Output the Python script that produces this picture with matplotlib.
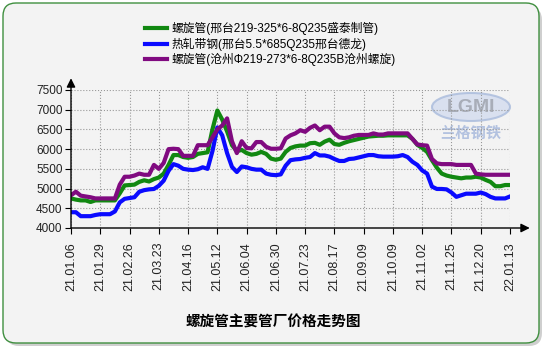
import matplotlib
matplotlib.use("Agg")
import matplotlib.pyplot as plt
from matplotlib.patches import FancyBboxPatch, Ellipse
import numpy as np

plt.rcParams['font.family'] = ['Liberation Sans', 'Noto Sans CJK SC', 'DejaVu Sans']

# tick labels (every 6th sample)
dates = ["21.01.06", "21.01.29", "21.02.26", "21.03.23", "21.04.16", "21.05.12",
         "21.06.04", "21.06.30", "21.07.23", "21.08.17", "21.09.09", "21.10.09",
         "21.11.02", "21.11.25", "21.12.20", "22.01.13"]

series_names = ["螺旋管(邢台219-325*6-8Q235盛泰制管)",
                "热轧带钢(邢台5.5*685Q235邢台德龙)",
                "螺旋管(沧州Φ219-273*6-8Q235B沧州螺旋)"]

# prices, 6 samples per label interval
green = [4750, 4720, 4700, 4700, 4660, 4700, 4700, 4700, 4700, 4700,
         4880, 5080, 5090, 5100, 5170, 5210, 5180, 5240, 5280, 5380,
         5600, 5850, 5850, 5800, 5780, 5800, 5880, 5900, 5920, 6500,
         6980, 6750, 6450, 6100, 5950, 5980, 5900, 5860, 5880, 5930,
         5880, 5760, 5730, 5760, 5930, 6030, 6070, 6090, 6090, 6150,
         6160, 6110, 6190, 6240, 6130, 6110, 6160, 6200, 6230, 6260,
         6290, 6320, 6330, 6340, 6340, 6350, 6350, 6350, 6350, 6350,
         6260, 6110, 6030, 5930, 5720, 5530, 5380, 5330, 5300, 5280,
         5260, 5280, 5280, 5300, 5280, 5220, 5170, 5060, 5060, 5090,
         5090]

blue = [4400, 4400, 4300, 4300, 4300, 4330, 4350, 4350, 4350, 4420,
        4650, 4740, 4760, 4780, 4920, 4960, 4980, 4990, 5070, 5200,
        5450, 5620, 5580, 5500, 5480, 5470, 5490, 5540, 5500, 5950,
        6550, 6350, 5900, 5550, 5420, 5560, 5540, 5500, 5480, 5480,
        5380, 5350, 5340, 5360, 5580, 5720, 5740, 5750, 5780, 5800,
        5900, 5840, 5840, 5810, 5750, 5700, 5700, 5750, 5760, 5790,
        5820, 5850, 5850, 5820, 5810, 5810, 5810, 5820, 5850, 5800,
        5680, 5600, 5460, 5380, 5050, 4990, 4990, 4980, 4900, 4790,
        4830, 4870, 4870, 4870, 4900, 4860, 4790, 4750, 4750, 4750,
        4800]

purple = [4830, 4920, 4820, 4800, 4780, 4750, 4750, 4750, 4750, 4750,
          5100, 5300, 5300, 5330, 5380, 5350, 5350, 5600, 5500, 5650,
          6000, 6010, 6000, 5830, 5830, 5830, 6100, 6100, 6100, 6300,
          6500, 6600, 6780, 6200, 5900, 6200, 6030, 6020, 6180, 6180,
          6060, 6010, 6010, 6020, 6270, 6350, 6400, 6480, 6440, 6540,
          6600, 6480, 6570, 6570, 6400, 6300, 6280, 6300, 6340, 6360,
          6360, 6360, 6400, 6370, 6370, 6400, 6400, 6400, 6400, 6400,
          6260, 6120, 6100, 6090, 5750, 5640, 5620, 5620, 5620, 5600,
          5600, 5600, 5600, 5380, 5360, 5350, 5350, 5350, 5350, 5350,
          5350]

yticks = [4000, 4500, 5000, 5500, 6000, 6500, 7000, 7500]
colors = ["#118811", "#0a0aff", "#800a80"]

fig = plt.figure(figsize=(5.5, 3.5), dpi=100)
fig.patch.set_facecolor("white")

# rounded frame with shadow
shadow = FancyBboxPatch((0.06, 0.04), 5.36, 3.39, boxstyle="round,pad=0,rounding_size=0.13",
                        transform=fig.dpi_scale_trans, facecolor="#b0b0b0", edgecolor="none",
                        alpha=0.6, zorder=-3)
frame = FancyBboxPatch((0.03, 0.07), 5.36, 3.40, boxstyle="round,pad=0,rounding_size=0.13",
                       transform=fig.dpi_scale_trans, facecolor="#f3f3f3", edgecolor="#3f8f3f",
                       linewidth=1.0, zorder=-2)
logo = Ellipse((471 / 550, 1 - 107 / 350), 78 / 550, 28 / 350, transform=fig.transFigure,
               facecolor="#d3dcee", edgecolor="#a9bbdc", lw=1.5, alpha=0.8, zorder=-1)
fig.patches.extend([shadow, frame, logo])

ax = fig.add_axes([71 / 550, 122 / 350, 439 / 550, 138 / 350])
ax.patch.set_visible(False)

x = np.arange(len(green))
for vals, c, name in zip([green, blue, purple], colors, series_names):
    ax.plot(x, vals, color=c, lw=3.0, label=name, solid_joinstyle="round", zorder=3)

ax.set_xlim(0, len(green) - 1)
ax.set_ylim(4000, 7500)
ax.set_xticks(x[::6])
ax.set_xticklabels(dates, rotation=90, fontsize=9, color="#222222")
ax.set_yticks(yticks)
ax.set_yticklabels([str(v) for v in yticks], fontsize=8.5, color="#222222")
ax.tick_params(axis="both", direction="out", length=4, width=0.8, pad=2)
ax.tick_params(axis="x", pad=6)
ax.grid(True, linestyle=":", color="#999999", linewidth=0.8)
for s in ["top", "right", "bottom", "left"]:
    ax.spines[s].set_visible(False)

# axes with arrow heads
ax.annotate("", xy=(1.045, 0), xytext=(0, 0), xycoords="axes fraction",
            arrowprops=dict(arrowstyle="-|>", color="black", lw=1.0, mutation_scale=13,
                            shrinkA=0, shrinkB=0), annotation_clip=False)
ax.annotate("", xy=(0, 1.085), xytext=(0, 0), xycoords="axes fraction",
            arrowprops=dict(arrowstyle="-|>", color="black", lw=1.0, mutation_scale=13,
                            shrinkA=0, shrinkB=0), annotation_clip=False)

# watermark text
fig.text(471 / 550, 1 - 107 / 350, "LGMI", ha="center", va="center", fontsize=14,
         fontweight="bold", color="#a8adb8", zorder=-1)
fig.text(471 / 550, 1 - 134 / 350, "兰格钢铁", ha="center", va="center", fontsize=11,
         fontweight="bold", color="#b3c2e0", zorder=-1)

fig.legend(loc="upper left", bbox_to_anchor=(145 / 550, 1 - 22 / 350), frameon=False,
           fontsize=8.5, handlelength=1.9, handletextpad=0.35, labelspacing=0.2,
           borderpad=0, borderaxespad=0)

fig.text(0.496, 1 - 323 / 350, "螺旋管主要管厂价格走势图", ha="center", va="center",
         fontsize=10.5, fontweight="bold", color="black")

fig.savefig("out.png", dpi=100)
